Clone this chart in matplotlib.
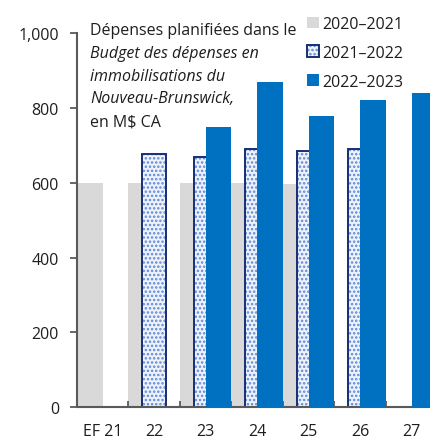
import matplotlib
matplotlib.use("Agg")
import matplotlib.pyplot as plt
import numpy as np

# planned capital spending, M$ CA
categories = ["EF 21", "22", "23", "24", "25", "26", "27"]
budget_2020_21 = [600, 600, 600, 600, 597, np.nan, np.nan]
budget_2021_22 = [np.nan, 676, 670, 691, 686, 690, np.nan]
budget_2022_23 = [np.nan, np.nan, 750, 868, 777, 821, 841]
series_labels = ["2020\u20132021", "2021\u20132022", "2022\u20132023"]

GRAY = "#d9d9d9"
NAVY = "#172f73"
DOTS = "#5f88d8"
BLUE = "#0070c0"
SPINE = "#5a5a5a"
TXT = "#1e1e1e"

plt.rcParams["font.family"] = ["Open Sans", "DejaVu Sans"]
plt.rcParams["hatch.linewidth"] = 1.2

fig = plt.figure(figsize=(4.30, 4.39), dpi=100)
ax = fig.add_axes([0.179, 0.0699, 0.8384, 0.8526])

x = np.arange(len(categories))
w = 0.5

b1 = ax.bar(x - 0.25, budget_2020_21, w, color=GRAY, linewidth=0, zorder=1)
b2h = ax.bar(x, budget_2021_22, w, facecolor="#eef3fb", edgecolor=DOTS,
             hatch="....", linewidth=0, zorder=2)
b2e = ax.bar(x, budget_2021_22, w - 0.03, facecolor="none", edgecolor=NAVY,
             linewidth=1.4, zorder=2.5)
b3 = ax.bar(x + 0.25, budget_2022_23, w, color=BLUE, linewidth=0, zorder=3)

ax.set_xlim(-0.5, len(categories) - 0.5)
ax.set_ylim(0, 1000)
ax.set_yticks([0, 200, 400, 600, 800, 1000])
ax.set_yticklabels(["0", "200", "400", "600", "800", "1,000"])
ax.set_xticks(x)
ax.set_xticklabels(categories)
ax.set_xticks(np.arange(0.5, len(categories) - 0.5, 1), minor=True)

for s in ["top", "right"]:
    ax.spines[s].set_visible(False)
for s in ["left", "bottom"]:
    ax.spines[s].set_color(SPINE)
    ax.spines[s].set_linewidth(1.5)

ax.tick_params(axis="y", direction="out", length=5, width=1.3, color=SPINE,
               labelsize=11.5, labelcolor=TXT, pad=8)
ax.tick_params(axis="x", which="major", length=0, labelsize=11.5,
               labelcolor=TXT, pad=11)
ax.tick_params(axis="x", which="minor", direction="in", length=4, width=1.3,
               color=SPINE)

# note block
lines = [
    ("D\u00e9penses planifi\u00e9es dans le", "normal"),
    ("Budget des d\u00e9penses en", "italic"),
    ("immobilisations du", "italic"),
    ("Nouveau-Brunswick,", "italic"),
    ("en M$ CA", "normal"),
]
for i, (txt, style) in enumerate(lines):
    fig.text(90 / 430, 1 - (23 + i * 22.8) / 439, txt, fontsize=11.5,
             style=style, color=TXT, ha="left", va="top")

leg = ax.legend([b1, (b2h, b2e), b3], series_labels,
                loc="upper left", bbox_to_anchor=(307 / 430, 1 - 17 / 439),
                bbox_transform=fig.transFigure, frameon=False,
                fontsize=11.5, handlelength=0.75, handleheight=0.75,
                handletextpad=0.2, labelspacing=0.8, borderpad=0,
                borderaxespad=0)
for t in leg.get_texts():
    t.set_color(TXT)

fig.savefig("out.png", dpi=100)
